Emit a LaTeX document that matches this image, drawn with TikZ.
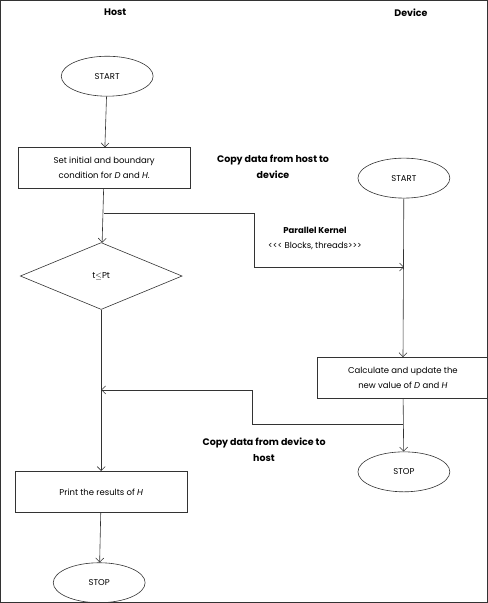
\documentclass[tikz,border=0pt]{standalone}
\usepackage{fontspec}
\setmainfont{Poppins}
\usetikzlibrary{shapes.geometric,arrows.meta}
\tikzset{every path/.style={draw=black!80,line width=0.6pt},
  every node/.style={font=\fontsize{8.5}{15}\selectfont,align=center,inner sep=1pt},
  flow/.style={-{Straight Barb[length=4pt,width=8pt]}},
  term/.style={ellipse,draw,minimum width=92pt,minimum height=40pt},
  proc/.style={rectangle,draw,minimum width=172pt,minimum height=41pt},
  test/.style={diamond,draw,minimum width=162pt,minimum height=67pt},
  note/.style={font=\fontsize{9.5}{16}\selectfont\bfseries}}

\begin{document}
\begin{tikzpicture}[x=1pt,y=-1pt]
   \useasboundingbox (0,0) rectangle (487,603);
   % host side
   \node[note] (host) at (115,12) {Host};
   \node[term] (hstart) at (107,76) {START};
   \node[proc] (hinit) at (104,168) {Set initial and boundary\\condition for \textit{D} and \textit{H}.};
   \node[test] (hcheck) at (101,276) {t$\leq$Pt};
   \node[proc] (hprint) at (101,492) {Print the results of \textit{H}};
   \node[term] (hstop) at (99,583) {STOP};
   % device side
   \node[note] (device) at (411,12) {Device};
   \node[term] (dstart) at (404,178) {START};
   \node[proc] (dcalc) at (403,378) {Calculate and update the\\new value of \textit{D} and \textit{H}};
   \node[term] (dstop) at (404,472) {STOP};
   % labels
   \node[note] (tohost) at (273,167) {Copy data from host to\\device};
   \node (kernel) at (315,238) {\textbf{Parallel Kernel}\\<{}<{}< Blocks, threads>{}>{}>};
   \node[note] (todevice) at (264,450) {Copy data from device to\\host};
   % connectors
   \coordinate (hsplit) at (hinit.south |- 0,213);
   \coordinate (dsplit) at (dstart.south |- 0,267);
   \coordinate (dback) at (dcalc.south |- 0,424);
   \coordinate (hjoin) at (hcheck.south |- 0,390);
   \draw[flow] (hstart) -- (hinit);
   \draw[flow] (hinit) -- (hcheck);
   \draw[flow] (hsplit) -| (254,267) -- (dsplit);
   \draw[flow] (hcheck) -- (hprint);
   \draw[flow] (hprint) -- (hstop);
   \draw[flow] (dstart) -- (dcalc);
   \draw[flow] (dcalc) -- (dstop);
   \draw[flow] (dback) -| (252,390) -- (hjoin);
\end{tikzpicture}
\end{document}
